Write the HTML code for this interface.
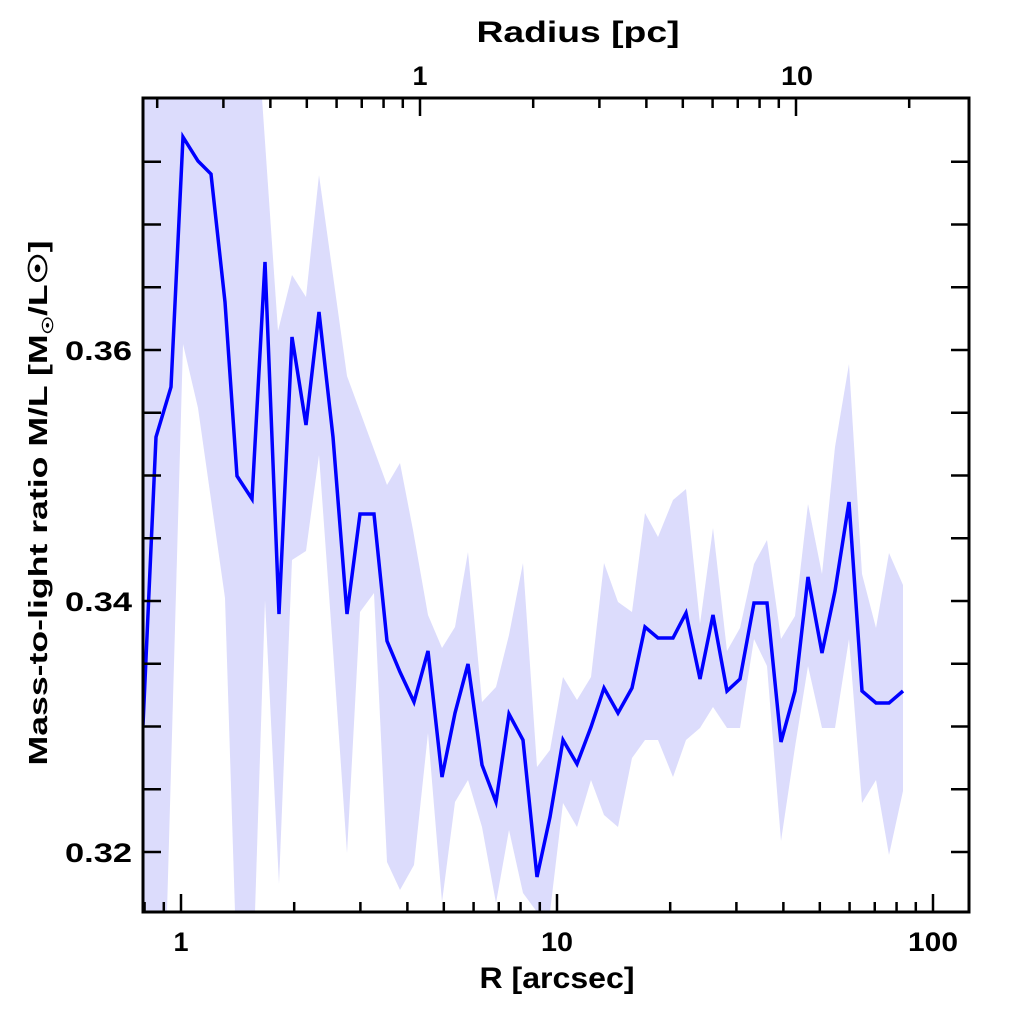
<!DOCTYPE html>
<html><head><meta charset="utf-8"><style>
html,body{margin:0;padding:0;background:#fff;}
svg{display:block;}
text{font-family:"Liberation Sans",sans-serif;font-weight:bold;fill:#000;}
</style></head><body>
<svg width="1024" height="1024" viewBox="0 0 1024 1024" xmlns="http://www.w3.org/2000/svg">
<defs><clipPath id="c"><rect x="143" y="98" width="826" height="814"/></clipPath></defs>
<g clip-path="url(#c)">
<polygon fill="#dcdcfc" points="143,98 262,98 278,331 292,275 306,297 319,175 347,376 387,485 400,463 413,530 428,615 442,648 455,627 468,552 482,702 496,687 509,635 523,563 537,767 550,750 563,677 577,700 591,677 604,563 618,602 632,612 645,513 658,537 673,500 686,489 700,624 713,528 727,651 740,628 754,564 767,540 781,639 795,616 808,504 822,574 835,447 849,364 862,574 876,628 889,553 903,585 903,791 889,855 876,780 862,803 849,639 835,728 822,728 808,666 795,747 781,841 767,666 754,639 740,728 727,728 713,707 700,728 686,740 673,777 658,740 645,740 632,758 618,827 604,815 591,780 577,827 563,803 550,912 537,912 523,893 509,830 496,903 482,827 468,780 455,802 442,902 428,733 414,865 400,890 387,862 374,593 360,612 347,853 333,650 319,455 306,551 292,560 279,884 265,600 255,912 235,912 225,598 198,408 183,344 167,912 143,912"/>
<polyline fill="none" stroke="#0000ff" stroke-width="3.5" stroke-linejoin="miter" points="143,725 156,437 171,387 183,137 198,161 211,174 225,302 237,476 252,499 265,262 279,614 292,337 306,425 319,312 333,437 347,614 360,514 374,514 387,641 400,672 414,702 428,651 442,777 455,713 468,664 482,765 496,802 509,714 523,740 537,877 550,817 563,740 577,764 591,727 604,688 618,713 632,688 645,627 658,638 673,638 686,613 700,679 713,615 727,691 740,679 754,603 767,603 781,742 795,691 808,577 822,653 835,591 849,502 862,691 876,703 889,703 903,691"/>
</g>
<rect x="143" y="98" width="826" height="814" fill="none" stroke="#000" stroke-width="3"/>
<g stroke="#000" stroke-width="2.5" id="ticks"></g>
<text x="420" y="85" font-size="27" text-anchor="middle">1</text>
<text x="797" y="85" font-size="27" text-anchor="middle" textLength="32" lengthAdjust="spacingAndGlyphs">10</text>
<text x="578" y="42" font-size="30" text-anchor="middle" textLength="203" lengthAdjust="spacingAndGlyphs">Radius [pc]</text>
<text x="181" y="951" font-size="27" text-anchor="middle">1</text>
<text x="557" y="951" font-size="27" text-anchor="middle" textLength="32" lengthAdjust="spacingAndGlyphs">10</text>
<text x="933" y="951" font-size="27" text-anchor="middle" textLength="50" lengthAdjust="spacingAndGlyphs">100</text>
<text x="557" y="988" font-size="30" text-anchor="middle" textLength="155" lengthAdjust="spacingAndGlyphs">R [arcsec]</text>
<text x="132" y="360" font-size="27" text-anchor="end" textLength="67" lengthAdjust="spacingAndGlyphs">0.36</text>
<text x="132" y="611" font-size="27" text-anchor="end" textLength="67" lengthAdjust="spacingAndGlyphs">0.34</text>
<text x="132" y="862" font-size="27" text-anchor="end" textLength="67" lengthAdjust="spacingAndGlyphs">0.32</text>
<text transform="translate(47,503) rotate(-90)" font-size="26" text-anchor="middle" textLength="525" lengthAdjust="spacingAndGlyphs">Mass-to-light ratio M/L [M<tspan font-size="15" dy="6">☉</tspan><tspan dy="-6">/L☉]</tspan></text>
</svg>
<script>
(function(){
var g=document.getElementById('ticks'),s='';
function L(x1,y1,x2,y2){s+='<line x1="'+x1+'" y1="'+y1+'" x2="'+x2+'" y2="'+y2+'"/>';}
var D=376;
function bx(v){return 181+D*Math.log10(v);}
[0.8,0.9,1,2,3,4,5,6,7,8,9,10,20,30,40,50,60,70,80,90,100].forEach(function(v){
var x=bx(v),maj=(v==1||v==10||v==100);L(x,912,x,912-(maj?18:10));});
function tx(v){return 420+D*Math.log10(v);}
[0.2,0.3,0.4,0.5,0.6,0.7,0.8,0.9,1,2,3,4,5,6,7,8,9,10,20].forEach(function(v){
var x=tx(v),maj=(v==1||v==10);L(x,98,x,98+(maj?18:10));});
for(var i=-1;i<12;i++){var y=852-i*62.75;if(y<100||y>910)continue;L(143,y,161,y);L(969,y,951,y);}
g.innerHTML=s;})();
</script>
</body></html>
